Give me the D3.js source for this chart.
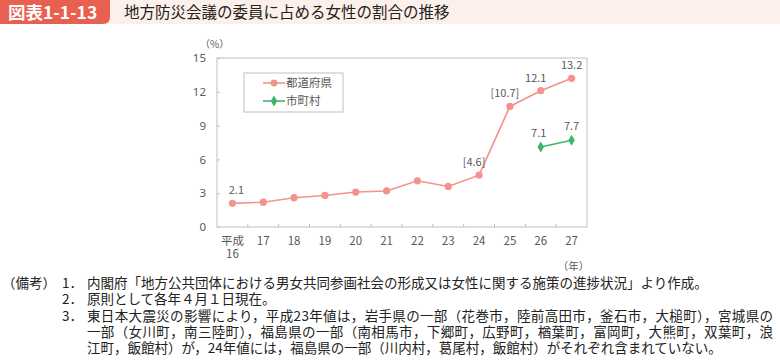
<!DOCTYPE html>
<html lang="ja">
<head>
<meta charset="UTF-8">
<title>地方防災会議の委員に占める女性の割合の推移</title>
<script src="https://d3js.org/d3.v7.min.js"></script>
<style>
  body { margin: 0; background: #fff; }
  svg { display: block; font-family: "Noto Sans CJK JP", "Noto Sans", sans-serif; }
</style>
</head>
<body>
<script>
// data
const years = ["16", "17", "18", "19", "20", "21", "22", "23", "24", "25", "26", "27"];
const prefValues = [2.1, 2.2, 2.6, 2.8, 3.1, 3.2, 4.1, 3.6, 4.6, 10.7, 12.1, 13.2];
const muniYears = ["26", "27"];
const muniValues = [7.1, 7.7];
const yTicks = [0, 3, 6, 9, 12, 15];
const prefLabels = { "16": "2.1", "24": "[4.6]", "25": "[10.7]", "26": "12.1", "27": "13.2" };
const muniLabels = { "26": "7.1", "27": "7.7" };
const seriesNames = ["都道府県", "市町村"];
// [number, text, justify]
const notes = [
  ["1．", "内閣府「地方公共団体における男女共同参画社会の形成又は女性に関する施策の進捗状況」より作成。", false],
  ["2．", "原則として各年４月１日現在。", false],
  ["3．", "東日本大震災の影響により，平成23年値は，岩手県の一部（花巻市，陸前高田市，釜石市，大槌町），宮城県の", true],
  ["", "一部（女川町，南三陸町），福島県の一部（南相馬市，下郷町，広野町，楢葉町，富岡町，大熊町，双葉町，浪", true],
  ["", "江町，飯館村）が，24年値には，福島県の一部（川内村，葛尾村，飯館村）がそれぞれ含まれていない。", false]
];

const W = 780, H = 361;
const svg = d3.select("body").append("svg").attr("width", W).attr("height", H);

// header
svg.append("rect").attr("x", 0).attr("y", 0).attr("width", W).attr("height", 24).attr("fill", "#fdefe9");
svg.append("path")
  .attr("d", "M0,0 H110 V17 Q110,24 103,24 H0 Z")
  .attr("fill", "#e8604f");
svg.append("text").attr("x", 8).attr("y", 19).attr("fill", "#fff")
  .attr("font-size", 17.5).attr("font-weight", "bold").text("図表1-1-13");
svg.append("text").attr("x", 124).attr("y", 18).attr("fill", "#222")
  .attr("font-size", 15.5).text("地方防災会議の委員に占める女性の割合の推移");

// plot area
const pLeft = 217, pRight = 587, pTop = 58, pBottom = 227;
const x = d3.scaleBand().domain(years).range([pLeft, pRight]);
const y = d3.scaleLinear().domain([0, 15]).range([pBottom, pTop]);
const cx = d => x(d) + x.bandwidth() / 2;
const grey = "#595959";

svg.append("rect").attr("x", pLeft).attr("y", pTop)
  .attr("width", pRight - pLeft).attr("height", pBottom - pTop)
  .attr("fill", "none").attr("stroke", "#bfbfbf");

// y axis
const yAxis = svg.append("g").attr("transform", `translate(${pLeft},0)`)
  .call(d3.axisRight(y).tickValues(yTicks).tickSize(3).tickFormat(d3.format("d")));
yAxis.select(".domain").remove();
yAxis.selectAll("line").attr("stroke", "#bfbfbf");
yAxis.selectAll("text").attr("x", -11).attr("text-anchor", "end")
  .attr("fill", grey).attr("font-size", 11.5).attr("font-family", "Noto Sans, sans-serif");
svg.append("text").attr("x", 200).attr("y", 48).attr("fill", grey)
  .attr("font-size", 10).text("（%）");

// x axis ticks (band boundaries, inward)
const xg = svg.append("g");
xg.selectAll("line").data(years.slice(1)).join("line")
  .attr("x1", d => x(d)).attr("x2", d => x(d))
  .attr("y1", pBottom).attr("y2", pBottom - 3)
  .attr("stroke", "#bfbfbf");
xg.selectAll("text.yr").data(years).join("text").attr("class", "yr")
  .attr("x", d => cx(d)).attr("y", 245).attr("text-anchor", "middle")
  .attr("fill", grey).attr("font-size", 11.5)
  .text(d => d === "16" ? "平成" : d);
svg.append("text").attr("x", cx("16")).attr("y", 258).attr("text-anchor", "middle")
  .attr("fill", grey).attr("font-size", 11.5).text("16");
svg.append("text").attr("x", cx("27") + 2).attr("y", 270).attr("text-anchor", "middle")
  .attr("fill", grey).attr("font-size", 10.5).text("（年）");

// series
const pink = "#f4928e", green = "#3fb46b";
const line = d3.line().x(d => cx(d[0])).y(d => y(d[1]));
const prefData = years.map((d, i) => [d, prefValues[i]]);
const muniData = muniYears.map((d, i) => [d, muniValues[i]]);

svg.append("path").datum(prefData).attr("d", line)
  .attr("fill", "none").attr("stroke", pink).attr("stroke-width", 1.6);
svg.selectAll("circle.pref").data(prefData).join("circle").attr("class", "pref")
  .attr("cx", d => cx(d[0])).attr("cy", d => y(d[1])).attr("r", 3.6).attr("fill", pink);

svg.append("path").datum(muniData).attr("d", line)
  .attr("fill", "none").attr("stroke", green).attr("stroke-width", 1.6);
const diamond = d3.symbol().type(d3.symbolDiamond).size(36);
svg.selectAll("path.muni").data(muniData).join("path").attr("class", "muni")
  .attr("d", diamond)
  .attr("transform", d => `translate(${cx(d[0])},${y(d[1])})`).attr("fill", green);

// value labels
svg.selectAll("text.pl").data(prefData.filter(d => prefLabels[d[0]])).join("text").attr("class", "pl")
  .attr("x", d => cx(d[0]) + (d[0] === "16" ? 4 : d[0] === "27" ? 0 : -5))
  .attr("y", d => y(d[1]) - 9)
  .attr("text-anchor", "middle").attr("fill", grey).attr("font-size", 11)
  .text(d => prefLabels[d[0]]);
svg.selectAll("text.ml").data(muniData).join("text").attr("class", "ml")
  .attr("x", d => cx(d[0]) + (d[0] === "26" ? -2 : 0))
  .attr("y", d => y(d[1]) - 10)
  .attr("text-anchor", "middle").attr("fill", grey).attr("font-size", 11)
  .text(d => muniLabels[d[0]]);

// legend
const lg = svg.append("g").attr("transform", "translate(244,73)");
lg.append("rect").attr("width", 99).attr("height", 39)
  .attr("fill", "#fff").attr("stroke", "#bfbfbf");
[pink, green].forEach((c, i) => {
  const yy = 10 + i * 18;
  lg.append("line").attr("x1", 19).attr("x2", 41).attr("y1", yy).attr("y2", yy)
    .attr("stroke", c).attr("stroke-width", 1.6);
  if (i === 0) lg.append("circle").attr("cx", 30).attr("cy", yy).attr("r", 3.4).attr("fill", c);
  else lg.append("path").attr("d", diamond).attr("transform", `translate(30,${yy})`).attr("fill", c);
  lg.append("text").attr("x", 42).attr("y", yy + 4).attr("fill", grey)
    .attr("font-size", 11.5).text(seriesNames[i]);
});

// notes
svg.append("text").attr("x", 2).attr("y", 288).attr("fill", "#222")
  .attr("font-size", 13.5).text("（備考）");
notes.forEach((n, i) => {
  const yy = 288 + i * 16.3;
  if (n[0]) svg.append("text").attr("x", 62).attr("y", yy).attr("fill", "#222")
    .attr("font-size", 13.5).text(n[0]);
  const t = svg.append("text").attr("x", 87).attr("y", yy).attr("fill", "#222")
    .attr("font-size", 13.5).text(n[1]);
  if (n[2]) t.attr("textLength", 686).attr("lengthAdjust", "spacing");
});
</script>
</body>
</html>
